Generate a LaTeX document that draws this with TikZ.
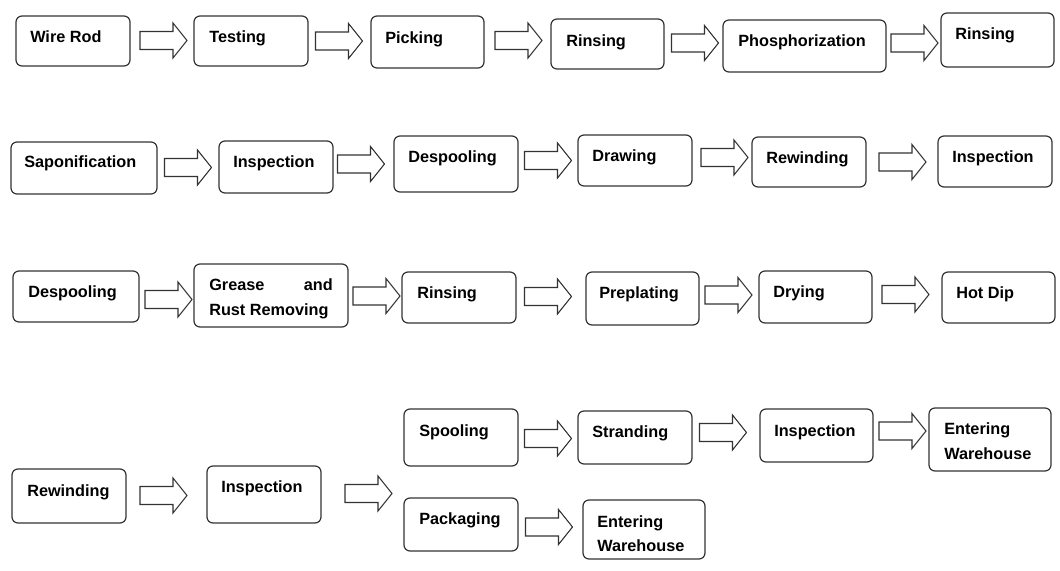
\documentclass[tikz,border=0pt]{standalone}
\usepackage{fontspec}
\setmainfont{Liberation Sans}
\usetikzlibrary{fit}
\begin{document}
\begin{tikzpicture}[x=0.75pt,y=-0.75pt,
  box/.style={draw=black!80,line width=0.9pt,rounded corners=4.5pt,inner sep=0pt,fill=white},
  lbl/.style={font=\fontsize{12.2}{14}\selectfont\bfseries,inner sep=0pt,anchor=base west},
  lblr/.style={lbl,anchor=base east},
  barrow/.pic={\draw[draw=black!80,line width=0.8pt,fill=white,line join=miter]
     (-23.5,-9) -- (9.5,-9) -- (9.5,-17.5) -- (23.5,0) -- (9.5,17.5) -- (9.5,9) -- (-23.5,9) -- cycle;}]
\useasboundingbox[fill=white] (0,0) rectangle (1060,571);
% Row 1
\node[box,fit={(16,16) (130,66)}] (wr) {};
\node[lbl] (wrt) at (30,42) {Wire Rod};
\node[box,fit={(194,16) (308,66)}] (te) {};
\node[lbl] (tet) at (209,42) {Testing};
\node[box,fit={(371,16) (484,68)}] (pi) {};
\node[lbl] (pit) at (385,43) {Picking};
\node[box,fit={(551,19) (664,69)}] (ri1) {};
\node[lbl] (ri1t) at (566,46) {Rinsing};
\node[box,fit={(723,20) (886,72)}] (ph) {};
\node[lbl] (pht) at (738,46) {Phosphorization};
\node[box,fit={(941,13) (1054,67)}] (ri2) {};
\node[lbl] (ri2t) at (955,39) {Rinsing};
\pic at (163.5,40.5) {barrow};
\pic at (339,41) {barrow};
\pic at (518.5,40.5) {barrow};
\pic at (695,43) {barrow};
\pic at (914.5,43) {barrow};
% Row 2
\node[box,fit={(11,142) (157,194)}] (sa) {};
\node[lbl] (sat) at (24,167) {Saponification};
\node[box,fit={(219,141) (333,193)}] (in1) {};
\node[lbl] (in1t) at (233,167) {Inspection};
\node[box,fit={(394,136) (518,192)}] (de1) {};
\node[lbl] (de1t) at (408,162) {Despooling};
\node[box,fit={(578,135) (692,186)}] (dr) {};
\node[lbl] (drt) at (592,161) {Drawing};
\node[box,fit={(752,137) (866,187)}] (rw1) {};
\node[lbl] (rw1t) at (766,163) {Rewinding};
\node[box,fit={(938,136) (1052,187)}] (in2) {};
\node[lbl] (in2t) at (952,162) {Inspection};
\pic at (188,167.5) {barrow};
\pic at (361,164) {barrow};
\pic at (548,160.5) {barrow};
\pic at (724.5,157.5) {barrow};
\pic at (902.5,162) {barrow};
% Row 3
\node[box,fit={(13,271) (139,322)}] (de2) {};
\node[lbl] (de2t) at (28,297) {Despooling};
\node[box,fit={(194,264) (348,327)}] (gr) {};
\node[lbl] (grt1) at (209,290) {Grease};
\node[lblr] (grt2) at (333,290) {and};
\node[lbl] (grt3) at (209,315) {Rust Removing};
\node[box,fit={(402,272) (516,323)}] (ri3) {};
\node[lbl] (ri3t) at (417,298) {Rinsing};
\node[box,fit={(586,272) (699,325)}] (pr) {};
\node[lbl] (prt) at (599,298) {Preplating};
\node[box,fit={(759,271) (872,323)}] (dy) {};
\node[lbl] (dyt) at (773,297) {Drying};
\node[box,fit={(942,272) (1055,323)}] (hd) {};
\node[lbl] (hdt) at (956,298) {Hot Dip};
\pic at (168.5,299.5) {barrow};
\pic at (376.5,296) {barrow};
\pic at (548,296.5) {barrow};
\pic at (728.5,295) {barrow};
\pic at (905.5,294.5) {barrow};
% Row 4
\node[box,fit={(12,469) (126,523)}] (rw2) {};
\node[lbl] (rw2t) at (27,496) {Rewinding};
\node[box,fit={(207,466) (321,523)}] (in3) {};
\node[lbl] (in3t) at (221,492) {Inspection};
\node[box,fit={(404,409) (518,466)}] (sp) {};
\node[lbl] (spt) at (419,436) {Spooling};
\node[box,fit={(578,411) (692,464)}] (st) {};
\node[lbl] (stt) at (592,437) {Stranding};
\node[box,fit={(760,409) (873,462)}] (in4) {};
\node[lbl] (in4t) at (774,436) {Inspection};
\node[box,fit={(929,408) (1051,471)}] (ew1) {};
\node[lbl] (ew1t1) at (944,434) {Entering};
\node[lbl] (ew1t2) at (944,459) {Warehouse};
\node[box,fit={(404,498) (518,551)}] (pa) {};
\node[lbl] (pat) at (419,524) {Packaging};
\node[box,fit={(583,500) (705,559)}] (ew2) {};
\node[lbl] (ew2t1) at (597,527) {Entering};
\node[lbl] (ew2t2) at (597,551) {Warehouse};
\pic at (163.5,495.5) {barrow};
\pic at (368.5,493.5) {barrow};
\pic at (548,438.5) {barrow};
\pic at (723,432.5) {barrow};
\pic at (902.5,431) {barrow};
\pic at (549,527) {barrow};
\end{tikzpicture}
\end{document}
